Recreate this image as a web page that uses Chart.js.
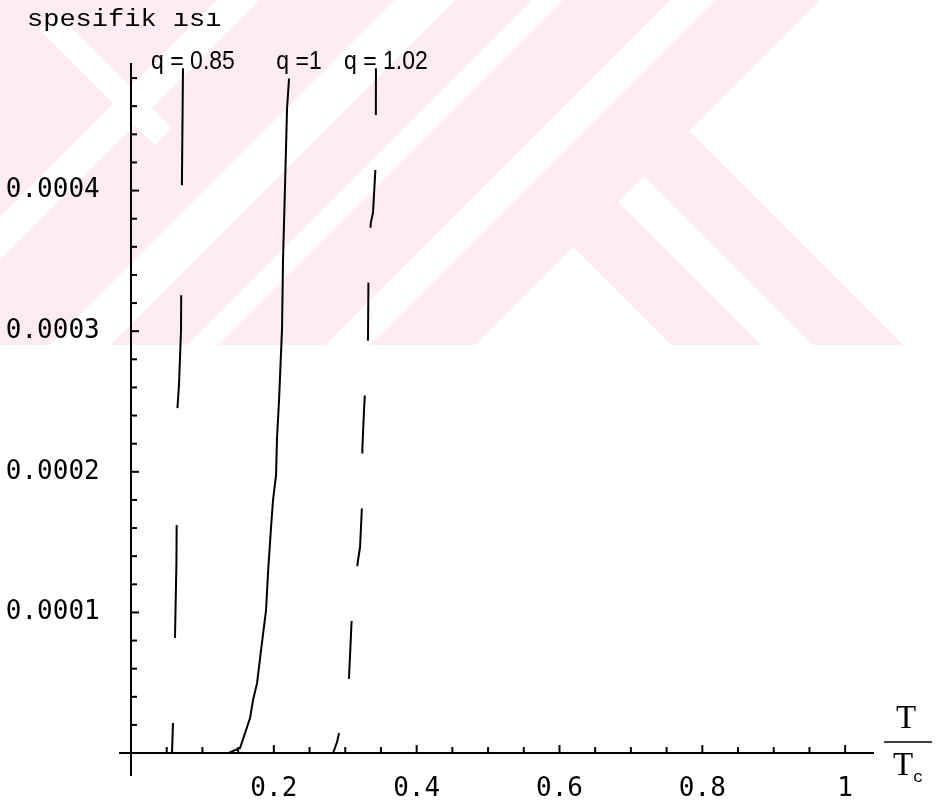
<!DOCTYPE html>
<html>
<head>
<meta charset="utf-8">
<script src="https://cdn.jsdelivr.net/npm/chart.js@4/dist/chart.umd.min.js"></script>
<style>
  html, body { margin: 0; padding: 0; background: #ffffff; }
  #wrap { position: relative; width: 941px; height: 805px; }
</style>
</head>
<body>
<div id="wrap"><canvas id="c"></canvas></div>
<script>
// ---- data ----
const seriesNames = ['q = 0.85', 'q =1', 'q = 1.02'];

const q085_T = [0.0574, 0.0588, 0.0616, 0.0636, 0.0650, 0.0672, 0.0700, 0.0712, 0.0728];
const q085_C = [0, 0.0000213, 0.0000817, 0.000135, 0.000245, 0.000262, 0.000300, 0.000400, 0.000487];

const q1_T = [0.1359, 0.1527, 0.1597, 0.1667, 0.1709, 0.1765, 0.1821, 0.1891, 0.1919, 0.1961,
              0.1989, 0.2031, 0.2045, 0.2073, 0.2115, 0.2129, 0.2157, 0.2185, 0.2213];
const q1_C = [0, 0.0000036, 0.0000142, 0.0000249, 0.0000377, 0.0000497, 0.0000732, 0.0001016,
              0.0001286, 0.0001606, 0.0001798, 0.0001976, 0.0002246, 0.0002509, 0.0003020,
              0.0003518, 0.0004037, 0.0004584, 0.0004797];

const q102_T = [0.2829, 0.2885, 0.2913, 0.3053, 0.3091, 0.3175, 0.3207, 0.3235, 0.3240, 0.3263,
                0.3319, 0.3325, 0.3357, 0.3389, 0.3427, 0.3430];
const q102_C = [0, 0.0000078, 0.0000142, 0.000054, 0.0000959, 0.0001357, 0.0001464, 0.0001763,
                0.0002168, 0.0002438, 0.0002957, 0.0003383, 0.0003767, 0.0003845, 0.0004193, 0.000487];

const xTickValues = [0.05, 0.1, 0.15, 0.2, 0.25, 0.3, 0.35, 0.4, 0.45, 0.5, 0.55, 0.6, 0.65,
                     0.7, 0.75, 0.8, 0.85, 0.9, 0.95, 1.0];
const xLabelValues = [0.2, 0.4, 0.6, 0.8, 1.0];
const xLabelTexts  = ['0.2', '0.4', '0.6', '0.8', '1'];

const yTickValues = [0.00002, 0.00004, 0.00006, 0.00008, 0.0001, 0.00012, 0.00014, 0.00016,
                     0.00018, 0.0002, 0.00022, 0.00024, 0.00026, 0.00028, 0.0003, 0.00032,
                     0.00034, 0.00036, 0.00038, 0.0004, 0.00042, 0.00044, 0.00046, 0.00048];
const yLabelValues = [0.0001, 0.0002, 0.0003, 0.0004];
const yLabelTexts  = ['0.0001', '0.0002', '0.0003', '0.0004'];

const axisTitleY = 'spesifik ısı';
const axisTitleX = ['T', 'T', 'c'];

// ---- helpers ----
function pts(xs, ys) { return xs.map((x, i) => ({ x: x, y: ys[i] })); }
function labelFor(v, vals, texts, tol) {
  for (let i = 0; i < vals.length; i++) if (Math.abs(v - vals[i]) < tol) return texts[i];
  return '';
}

// background watermark (light pink diagonal logo)
const watermarkPlugin = {
  id: 'watermark',
  beforeDraw(chart) {
    const ctx = chart.ctx;
    const W = chart.width, H = 345;
    ctx.save();
    ctx.fillStyle = '#ffffff';
    ctx.fillRect(0, 0, chart.width, chart.height);
    ctx.beginPath(); ctx.rect(0, 0, W, H); ctx.clip();
    ctx.fillStyle = 'rgb(253,237,240)';
    ctx.fillRect(0, 0, W, H);
    ctx.fillStyle = '#ffffff';
    const slash = [[217, 260], [395, 455], [532, 563], [670, 715]];
    slash.forEach(([a, b]) => {
      ctx.beginPath();
      ctx.moveTo(a, 0); ctx.lineTo(b, 0); ctx.lineTo(b - H, H); ctx.lineTo(a - H, H);
      ctx.closePath(); ctx.fill();
    });
    const polys = [
      [[820, 0], [W + 5, 0], [W + 5, H], [903, H], [689, 131]],
      [[644, 176], [813, H], [761, H], [618, 202]],
      [[573, 247], [671, H], [475, H]],
      [[40, 30], [57, 13], [172, 128], [155, 145]]
    ];
    polys.forEach(p => {
      ctx.beginPath();
      ctx.moveTo(p[0][0], p[0][1]);
      for (let i = 1; i < p.length; i++) ctx.lineTo(p[i][0], p[i][1]);
      ctx.closePath(); ctx.fill();
    });
    ctx.restore();
  }
};

// inward tick marks, axis titles, curve labels
const decorPlugin = {
  id: 'decor',
  afterDraw(chart) {
    const ctx = chart.ctx;
    const xs = chart.scales.x, ys = chart.scales.y;
    const x0 = xs.getPixelForValue(0), y0 = ys.getPixelForValue(0);
    ctx.save();
    ctx.strokeStyle = '#000'; ctx.lineWidth = 2;
    xs.ticks.forEach(t => {
      const p = xs.getPixelForValue(t.value);
      const len = labelFor(t.value, xLabelValues, xLabelTexts, 1e-6) ? 8 : 6;
      ctx.beginPath(); ctx.moveTo(p, y0); ctx.lineTo(p, y0 - len); ctx.stroke();
    });
    ys.ticks.forEach(t => {
      const p = ys.getPixelForValue(t.value);
      const len = labelFor(t.value, yLabelValues, yLabelTexts, 1e-9) ? 8 : 6;
      ctx.beginPath(); ctx.moveTo(x0, p); ctx.lineTo(x0 + len, p); ctx.stroke();
    });

    // y axis title at top-left
    ctx.fillStyle = '#000';
    ctx.save();
    ctx.font = '27px "Liberation Mono", monospace';
    ctx.textBaseline = 'alphabetic'; ctx.textAlign = 'left';
    ctx.scale(1, 0.9);
    ctx.fillText(axisTitleY, 27, 26 / 0.9);
    ctx.restore();

    // x axis title T / Tc at the right end of the axis
    const xr = xs.right;
    ctx.font = '33px "Liberation Serif", serif';
    ctx.textAlign = 'center'; ctx.textBaseline = 'alphabetic';
    ctx.fillText(axisTitleX[0], xr + 33, y0 - 25);
    ctx.fillText(axisTitleX[1], xr + 30, y0 + 22);
    ctx.font = '17px "Liberation Mono", monospace';
    ctx.textAlign = 'left';
    ctx.fillText(axisTitleX[2], xr + 40, y0 + 29);
    ctx.lineWidth = 1.5;
    ctx.beginPath(); ctx.moveTo(xr + 11, y0 - 11); ctx.lineTo(xr + 59, y0 - 11); ctx.stroke();

    // curve labels above each curve's top point
    ctx.font = '25px "Liberation Sans", Arial, sans-serif';
    ctx.textAlign = 'center'; ctx.textBaseline = 'alphabetic';
    chart.data.datasets.forEach((ds, i) => {
      const meta = chart.getDatasetMeta(i);
      const last = meta.data[meta.data.length - 1];
      ctx.save();
      ctx.translate(last.x + 10, chart.chartArea.top + 5);
      ctx.scale(0.92, 1);
      ctx.fillText(seriesNames[i], 0, 0);
      ctx.restore();
    });
    ctx.restore();
  }
};

const tickFont = { family: '"DejaVu Sans Mono", monospace', size: 26 };

new Chart(document.getElementById('c'), {
  type: 'scatter',
  data: {
    datasets: [
      { label: seriesNames[0], data: pts(q085_T, q085_C), showLine: true, borderColor: '#000',
        borderWidth: 2, pointRadius: 0, borderDash: [30, 85, 113, 117, 113, 110, 117, 300],
        borderDashOffset: 0, tension: 0 },
      { label: seriesNames[1], data: pts(q1_T, q1_C), showLine: true, borderColor: '#000',
        borderWidth: 2, pointRadius: 0, tension: 0 },
      { label: seriesNames[2], data: pts(q102_T, q102_C), showLine: true, borderColor: '#000',
        borderWidth: 2, pointRadius: 0, borderDash: [58, 55], borderDashOffset: 37, tension: 0 }
    ]
  },
  options: {
    responsive: true,
    maintainAspectRatio: false,
    animation: false,
    layout: { padding: { left: 120, right: 68, top: 64, bottom: 30 } },
    plugins: { legend: { display: false }, title: { display: false }, tooltip: { enabled: false } },
    scales: {
      x: {
        type: 'linear',
        position: { y: 0 },
        min: -0.0154, max: 1.039,
        afterBuildTicks: s => { s.ticks = xTickValues.map(v => ({ value: v })); },
        grid: { display: true, drawOnChartArea: false, drawTicks: false },
        border: { display: true, color: '#000', width: 2 },
        ticks: {
          autoSkip: false, maxRotation: 0, padding: 21, color: '#000', font: tickFont,
          callback: v => labelFor(v, xLabelValues, xLabelTexts, 1e-6)
        }
      },
      y: {
        type: 'linear',
        position: { x: 0 },
        min: -0.0000156, max: 0.00049,
        afterBuildTicks: s => { s.ticks = yTickValues.map(v => ({ value: v })); },
        grid: { display: true, drawOnChartArea: false, drawTicks: false },
        border: { display: true, color: '#000', width: 2 },
        ticks: {
          autoSkip: false, padding: 0, color: '#000', font: tickFont,
          callback: v => { const t = labelFor(v, yLabelValues, yLabelTexts, 1e-9); return t ? t + '  ' : ''; }
        }
      }
    }
  },
  plugins: [watermarkPlugin, decorPlugin]
});
</script>
</body>
</html>
